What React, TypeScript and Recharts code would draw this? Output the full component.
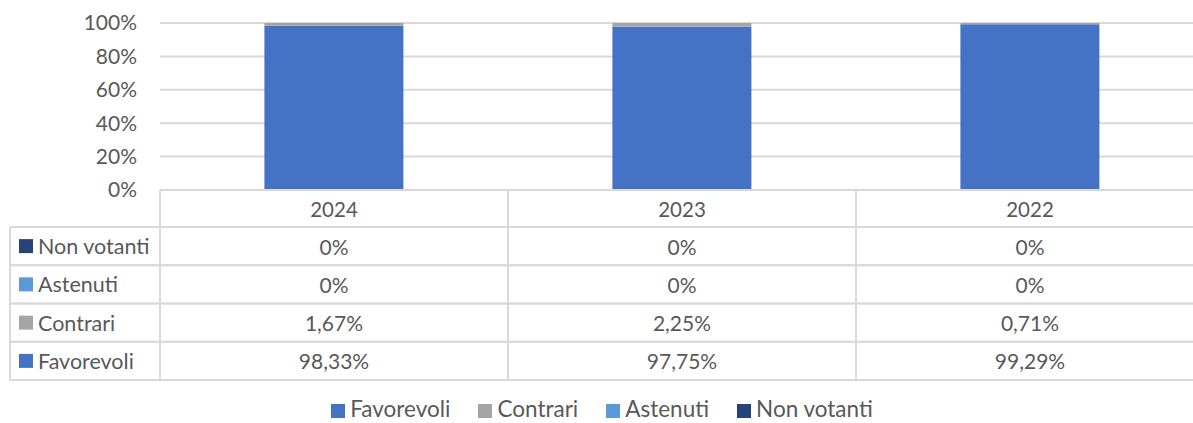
import { BarChart, Bar, XAxis, YAxis, CartesianGrid, Legend } from 'recharts';

// Voting results per year, percent
const categories = ['2024', '2023', '2022'];
const favorevoli = [98.33, 97.75, 99.29];
const contrari = [1.67, 2.25, 0.71];
const astenuti = [0, 0, 0];
const nonVotanti = [0, 0, 0];
const yTicks = [0, 20, 40, 60, 80, 100];

const series = [
  { key: 'favorevoli', name: 'Favorevoli', color: '#4472C4', values: favorevoli },
  { key: 'contrari', name: 'Contrari', color: '#A5A5A5', values: contrari },
  { key: 'astenuti', name: 'Astenuti', color: '#5B9BD5', values: astenuti },
  { key: 'nonVotanti', name: 'Non votanti', color: '#264478', values: nonVotanti },
];

const data = categories.map((year, i) => ({
  year,
  favorevoli: favorevoli[i],
  contrari: contrari[i],
  astenuti: astenuti[i],
  nonVotanti: nonVotanti[i],
}));

const FONT = 'Lato, "Open Sans", sans-serif';
const TEXT = '#595959';
const LINE = '#D9D9D9';
const HEADER_H = 37;
const ROW_H = 38.25;
const TABLE_LEFT = 10;

const fmt = (v: number) => (v === 0 ? '0%' : `${v.toFixed(2).replace('.', ',')}%`);

// table rows are listed top-down in reverse stack order
const rows = [...series].reverse();

function TableColumn(props: any) {
  const { x, y, payload, index } = props;
  const band = props.width ? props.width / categories.length : 348;
  const left = x - band / 2;
  const right = x + band / 2;
  const i = categories.indexOf(payload.value);
  const bottom = y + HEADER_H + ROW_H * rows.length;
  return (
    <g>
      <text x={x} y={y + HEADER_H / 2} textAnchor="middle" dominantBaseline="central" fill={TEXT} fontSize={20.5} fontFamily={FONT}>
        {payload.value}
      </text>
      <line x1={right} x2={right} y1={y} y2={bottom} stroke={LINE} strokeWidth={2} />
      {rows.map((s, r) => {
        const top = y + HEADER_H + ROW_H * r;
        return (
          <g key={s.key}>
            <line x1={left} x2={right} y1={top + ROW_H} y2={top + ROW_H} stroke={LINE} strokeWidth={2} />
            <line x1={left} x2={right} y1={top} y2={top} stroke={LINE} strokeWidth={2} />
            <text x={x} y={top + ROW_H / 2} textAnchor="middle" dominantBaseline="central" fill={TEXT} fontSize={21} fontFamily={FONT}>
              {fmt(s.values[i])}
            </text>
          </g>
        );
      })}
      {index === 0 && (
        <g>
          <line x1={left} x2={left} y1={y} y2={bottom} stroke={LINE} strokeWidth={2} />
          <line x1={TABLE_LEFT} x2={TABLE_LEFT} y1={y + HEADER_H} y2={bottom} stroke={LINE} strokeWidth={2} />
          {rows.map((s, r) => {
            const top = y + HEADER_H + ROW_H * r;
            return (
              <g key={s.key}>
                <line x1={TABLE_LEFT} x2={left} y1={top} y2={top} stroke={LINE} strokeWidth={2} />
                <line x1={TABLE_LEFT} x2={left} y1={top + ROW_H} y2={top + ROW_H} stroke={LINE} strokeWidth={2} />
                <rect x={19} y={top + ROW_H / 2 - 7} width={14} height={14} fill={s.color} />
                <text x={38} y={top + ROW_H / 2} dominantBaseline="central" fill={TEXT} fontSize={21.5} fontFamily={FONT}>
                  {s.name}
                </text>
              </g>
            );
          })}
        </g>
      )}
    </g>
  );
}

function LegendContent() {
  return (
    <div
      style={{
        height: 43,
        boxSizing: 'border-box',
        paddingTop: 19,
        display: 'flex',
        justifyContent: 'center',
        alignItems: 'flex-start',
        fontFamily: FONT,
        fontSize: 22.5,
        lineHeight: '20px',
        color: TEXT,
        whiteSpace: 'nowrap',
      }}
    >
      {series.map((s, k) => (
        <div key={s.key} style={{ display: 'flex', alignItems: 'flex-start', marginLeft: k === 0 ? 0 : 28 }}>
          <span style={{ display: 'inline-block', width: 14, height: 14, marginTop: 5, marginRight: 5, background: s.color }} />
          <span>{s.name}</span>
        </div>
      ))}
    </div>
  );
}

export default function App() {
  return (
    <div style={{ position: 'absolute', left: 0, top: 0, width: 1193, height: 423, overflow: 'hidden', background: '#fff' }}>
      <BarChart width={1204} height={423} data={data} margin={{ top: 23, right: 0, left: 0, bottom: 0 }} barCategoryGap="30%">
        <CartesianGrid vertical={false} stroke={LINE} strokeWidth={2} />
        <XAxis
          dataKey="year"
          height={190}
          tickSize={0}
          tickMargin={0}
          axisLine={{ stroke: LINE, strokeWidth: 2 }}
          tickLine={false}
          tick={<TableColumn />}
          interval={0}
        />
        <YAxis
          width={160}
          domain={[0, 100]}
          ticks={yTicks}
          tickFormatter={(v) => `${v}%`}
          axisLine={false}
          tickLine={false}
          tickSize={0}
          tickMargin={23}
          tick={{ fill: TEXT, fontSize: 21, fontFamily: FONT }}
        />
        <Legend verticalAlign="bottom" height={43} content={<LegendContent />} wrapperStyle={{ overflow: 'visible' }} />
        {series.map((s) => (
          <Bar key={s.key} dataKey={s.key} name={s.name} stackId="a" fill={s.color} isAnimationActive={false} />
        ))}
      </BarChart>
    </div>
  );
}
